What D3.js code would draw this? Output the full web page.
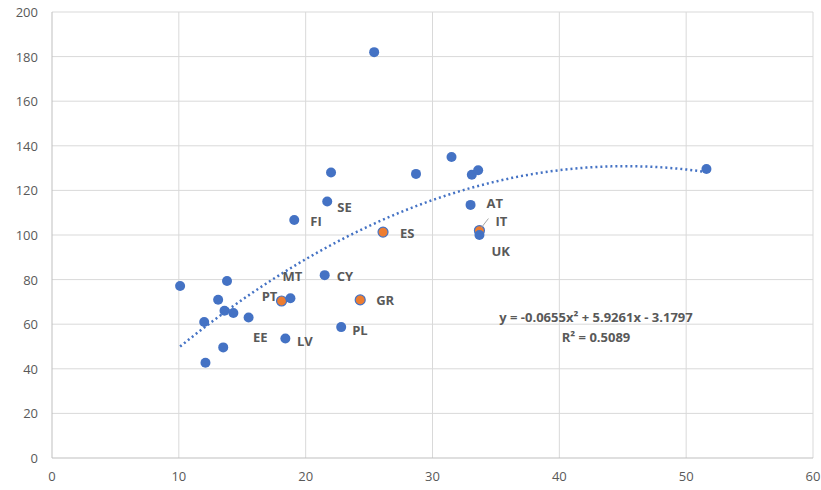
<!DOCTYPE html>
<html><head><meta charset="utf-8">
<script src="https://cdn.jsdelivr.net/npm/d3@7"></script>
<style>body{margin:0;background:#fff;font-family:"Open Sans","Liberation Sans",Arial,sans-serif}</style>
</head><body><svg id="c" width="821" height="490"></svg>
<script>
// points: [x, y, label, highlighted]
const xs = [10.1,12.0,12.1,13.1,13.5,13.8,13.6,14.3,15.5,18.1,18.8,19.1,18.4,21.5,21.7,22.0,22.8,25.4,26.1,24.3,28.7,31.5,33.1,33.6,33.0,33.7,33.7,51.6];
const ys = [77.1,61,42.7,71,49.6,79.4,66,65,63,70.4,71.6,106.7,53.6,82,115,128,58.7,182,101.3,70.9,127.4,135,127,129,113.5,102,100,129.6];
const labels = ["","","","","","","","","","PT","MT","FI","","CY","SE","","PL","","ES","GR","","","","","AT","IT","UK",""];
const orange = [9,18,19,25];
const extraLabels = [["EE",253,342],["LV",297,346]];
// label offsets in px (dx, dy)
const labelOff = {PT:[-12,-3],MT:[2,-21],FI:[16,2],CY:[12,2],SE:[10,7],PL:[11,4],ES:[17,2],GR:[16,2],AT:[16,0],IT:[16,-8],UK:[12,18]};
const xTicks = d3.range(0,61,10), yTicks = d3.range(0,201,20);
const eq = [-0.0655,5.9261,-3.1797];

const svg = d3.select("#c");
const x = d3.scaleLinear().domain([0,60]).range([52,813]);
const y = d3.scaleLinear().domain([0,200]).range([458,12]);

svg.append("g").selectAll("line").data(yTicks.slice(1)).join("line")
  .attr("x1",x(0)).attr("x2",x(60)).attr("y1",d=>y(d)).attr("y2",d=>y(d)).attr("stroke","#d9d9d9");
svg.append("g").selectAll("line").data(xTicks.slice(1)).join("line")
  .attr("y1",y(0)).attr("y2",y(200)).attr("x1",d=>x(d)).attr("x2",d=>x(d)).attr("stroke","#d9d9d9");
svg.append("line").attr("x1",x(0)).attr("x2",x(60)).attr("y1",y(0)).attr("y2",y(0)).attr("stroke","#bfbfbf");
svg.append("line").attr("x1",x(0)).attr("x2",x(0)).attr("y1",y(0)).attr("y2",y(200)).attr("stroke","#bfbfbf");

svg.append("g").selectAll("text").data(yTicks).join("text")
  .attr("x",x(0)-14).attr("y",d=>y(d)+5).attr("text-anchor","end")
  .attr("font-size",13).attr("fill","#595959").text(d=>d);
svg.append("g").selectAll("text").data(xTicks).join("text")
  .attr("x",d=>x(d)).attr("y",y(0)+23).attr("text-anchor","middle")
  .attr("font-size",13).attr("fill","#595959").text(d=>d);

// trendline
const tx = d3.range(10.1,51.61,0.2);
svg.append("path").datum(tx)
  .attr("d",d3.line().x(d=>x(d)).y(d=>y(eq[0]*d*d+eq[1]*d+eq[2])))
  .attr("fill","none").attr("stroke","#4472C4").attr("stroke-width",2.5).attr("stroke-dasharray","2,3");

const idx = d3.range(xs.length);
svg.append("g").selectAll("circle").data(idx).join("circle")
  .attr("cx",i=>x(xs[i])).attr("cy",i=>y(ys[i])).attr("r",5)
  .attr("fill",i=>orange.includes(i)?"#ED7D31":"#4472C4")
  .attr("stroke",i=>orange.includes(i)?"#4472C4":"none").attr("stroke-width",1.2);

// leader line for IT
svg.append("line").attr("x1",x(33.7)+2).attr("y1",y(102)-3).attr("x2",x(33.7)+9).attr("y2",y(102)-12).attr("stroke","#a6a6a6");

svg.append("g").selectAll("text").data(idx.filter(i=>labels[i])).join("text")
  .attr("x",i=>x(xs[i])+labelOff[labels[i]][0]).attr("y",i=>y(ys[i])+labelOff[labels[i]][1])
  .attr("font-size",13).attr("font-weight","bold").attr("fill","#595959")
  .attr("text-anchor",i=>["PT","MT"].includes(labels[i])?"middle":"start")
  .attr("dominant-baseline","middle").text(i=>labels[i]);
svg.append("g").selectAll("text").data(extraLabels).join("text")
  .attr("x",d=>d[1]).attr("y",d=>d[2]).attr("font-size",13).attr("font-weight","bold").attr("fill","#595959").text(d=>d[0]);

svg.append("text").attr("x",596).attr("y",322).attr("text-anchor","middle").attr("font-size",13).attr("font-weight","bold").attr("fill","#595959")
  .text("y = -0.0655x² + 5.9261x - 3.1797");
svg.append("text").attr("x",596).attr("y",342).attr("text-anchor","middle").attr("font-size",13).attr("font-weight","bold").attr("fill","#595959")
  .text("R² = 0.5089");
</script></body></html>
